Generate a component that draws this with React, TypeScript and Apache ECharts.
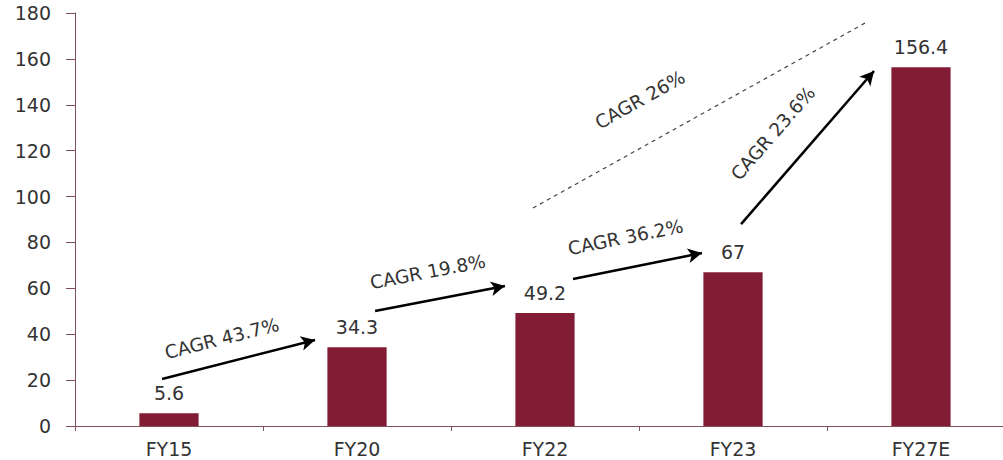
import React, { useEffect, useRef } from "react";
import * as echarts from "echarts";

const categories = ["FY15", "FY20", "FY22", "FY23", "FY27E"];
const values = [5.6, 34.3, 49.2, 67, 156.4];
const yTicks = { min: 0, max: 180, interval: 20 };

// Annotation coords in (position, value) space; category i spans [i, i+1]
const arrowStarts = [
  [0.463, 20.5],
  [1.596, 50.1],
  [2.649, 64.1],
  [3.543, 88.0],
];
const arrowEnds = [
  [1.277, 37.5],
  [2.287, 61.0],
  [3.335, 75.4],
  [4.25, 154.7],
];
const arrowLabels = ["CAGR 43.7%", "CAGR 19.8%", "CAGR 36.2%", "CAGR 23.6%"];
const dashedStart = [2.436, 95.0];
const dashedEnd = [4.213, 176.1];
const dashedLabel = "CAGR 26%";

export default function App() {
  const ref = useRef<HTMLDivElement>(null);
  useEffect(() => {
    if (!ref.current) return;
    const chart = echarts.init(ref.current, undefined, { renderer: "svg" });
    const font = "DejaVu Sans, Verdana, sans-serif";
    const labelDist = [15, 19, 21, 26];
    const labelShift = [11, 7, 6, 12];
    const arrowData: any[] = arrowStarts.map((s, i) => [
      {
        coord: s,
        symbol: "none",
        lineStyle: { color: "#000", width: 2.5, type: "solid" },
        label: {
          show: true,
          formatter: arrowLabels[i],
          position: "insideMiddleTop",
          distance: labelDist[i],
          padding: [0, labelShift[i] * 2, 0, 0],
          color: "#333",
          fontSize: 18.5,
          fontFamily: font,
        },
      },
      { coord: arrowEnds[i], symbol: "arrow" },
    ]);
    arrowData.push([
      {
        coord: dashedStart,
        symbol: "none",
        lineStyle: { color: "#444", width: 1.2, type: [4, 4] },
        label: {
          show: true,
          formatter: dashedLabel,
          position: "insideMiddleTop",
          distance: 33,
          padding: [0, 90, 0, 0],
          color: "#333",
          fontSize: 18.5,
          fontFamily: font,
        },
      },
      { coord: dashedEnd, symbol: "none" },
    ]);
    chart.setOption({
      animation: false,
      grid: { left: 75, right: 5, top: 13, bottom: 34 },
      xAxis: [
        {
          type: "category",
          data: categories,
          axisLine: { lineStyle: { color: "#7f4f5c", width: 1 } },
          axisTick: { show: true, length: 5, lineStyle: { color: "#7f4f5c" } },
          axisLabel: { color: "#333", fontSize: 19, fontFamily: font, margin: 13 },
        },
        {
          type: "value",
          min: 0,
          max: 5,
          show: false,
        },
      ],
      yAxis: {
        type: "value",
        min: yTicks.min,
        max: yTicks.max,
        interval: yTicks.interval,
        axisLine: { show: true, onZero: false, lineStyle: { color: "#7f4f5c", width: 1 } },
        axisTick: { show: true, length: 9, lineStyle: { color: "#7f4f5c" } },
        splitLine: { show: false },
        axisLabel: { color: "#333", fontSize: 19, fontFamily: font, margin: 24 },
      },
      series: [
        {
          type: "bar",
          data: values,
          barWidth: "31.5%",
          itemStyle: { color: "#821c34" },
          label: {
            show: true,
            position: "top",
            distance: 11,
            color: "#333",
            fontSize: 19,
            fontFamily: font,
          },
          silent: true,
        },
        {
          type: "scatter",
          xAxisIndex: 1,
          data: [],
          silent: true,
          markLine: {
            silent: true,
            symbol: ["none", "arrow"],
            symbolSize: [11, 14],
            data: arrowData,
          },
        },
      ],
    });
    return () => chart.dispose();
  }, []);
  return (
    <div
      style={{
        position: "fixed",
        left: 0,
        top: 0,
        width: 1003,
        height: 460,
        overflow: "hidden",
        background: "#fff",
      }}
    >
      <div ref={ref} style={{ width: 1020, height: 460 }} />
    </div>
  );
}
